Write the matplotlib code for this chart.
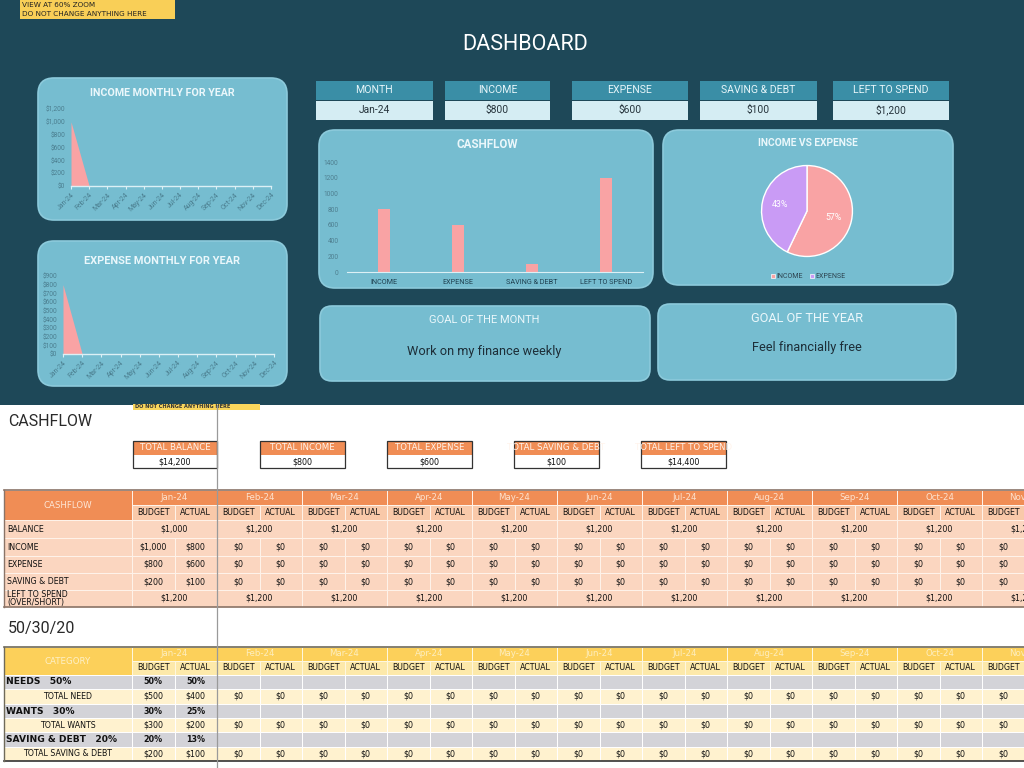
import matplotlib
matplotlib.use('Agg')
import matplotlib.pyplot as plt
from matplotlib.patches import FancyBboxPatch, Rectangle
import numpy as np

# ---------------- data ----------------
months = ['Jan-24', 'Feb-24', 'Mar-24', 'Apr-24', 'May-24', 'Jun-24',
          'Jul-24', 'Aug-24', 'Sep-24', 'Oct-24', 'Nov-24', 'Dec-24']
income_monthly = [1000, 0, 0, 0, 0, 0, 0, 0, 0, 0, 0, 0]
expense_monthly = [800, 0, 0, 0, 0, 0, 0, 0, 0, 0, 0, 0]

kpi_labels = ['MONTH', 'INCOME', 'EXPENSE', 'SAVING & DEBT', 'LEFT TO SPEND']
kpi_values = ['Jan-24', '$800', '$600', '$100', '$1,200']

cash_categories = ['INCOME', 'EXPENSE', 'SAVING & DEBT', 'LEFT TO SPEND']
cash_values = [800, 600, 100, 1200]

pie_labels = ['INCOME', 'EXPENSE']
pie_values = [800, 600]

goal_month = 'Work on my finance weekly'
goal_year = 'Feel financially free'

total_labels = ['TOTAL BALANCE', 'TOTAL INCOME', 'TOTAL EXPENSE',
                'TOTAL SAVING & DEBT', 'TOTAL LEFT TO SPEND']
total_values = [14200, 800, 600, 100, 14400]

table_months = months[:11]
balance = [1000, 1200, 1200, 1200, 1200, 1200, 1200, 1200, 1200, 1200, 1200]
income_budget = [1000, 0, 0, 0, 0, 0, 0, 0, 0, 0, 0]
income_actual = [800, 0, 0, 0, 0, 0, 0, 0, 0, 0, 0]
expense_budget = [800, 0, 0, 0, 0, 0, 0, 0, 0, 0, 0]
expense_actual = [600, 0, 0, 0, 0, 0, 0, 0, 0, 0, 0]
saving_budget = [200, 0, 0, 0, 0, 0, 0, 0, 0, 0, 0]
saving_actual = [100, 0, 0, 0, 0, 0, 0, 0, 0, 0, 0]
left_to_spend = [1200, 1200, 1200, 1200, 1200, 1200, 1200, 1200, 1200, 1200, 1200]

cat_names = ['NEEDS', 'WANTS', 'SAVING & DEBT']
cat_pct = ['50%', '30%', '20%']
cat_total_names = ['TOTAL NEED', 'TOTAL WANTS', 'TOTAL SAVING & DEBT']
cat_pct_budget = ['50%', '30%', '20%']
cat_pct_actual = ['50%', '25%', '13%']
need_budget = [500, 0, 0, 0, 0, 0, 0, 0, 0, 0, 0]
need_actual = [400, 0, 0, 0, 0, 0, 0, 0, 0, 0, 0]
wants_budget = [300, 0, 0, 0, 0, 0, 0, 0, 0, 0, 0]
wants_actual = [200, 0, 0, 0, 0, 0, 0, 0, 0, 0, 0]
sd_budget = [200, 0, 0, 0, 0, 0, 0, 0, 0, 0, 0]
sd_actual = [100, 0, 0, 0, 0, 0, 0, 0, 0, 0, 0]

# ---------------- styles ----------------
DARK = '#1e4858'
PANEL = '#76bdd0'
PANEL_EDGE = '#8ccadb'
SALMON = '#f9a3a4'
PURPLE = '#c99bf5'
KPI_HEAD = '#3a8ea6'
KPI_VAL = '#d5edf3'
DFONT = 'Roboto'
TFONT = 'DejaVu Sans'
ORANGE = '#f08d55'
ORANGE_SUB = '#f9c9a9'
PEACH = '#fbd6c0'
YELLOW = '#fcd05a'
YELLOW_SUB = '#fde9aa'
CREAM = '#fff2cf'
GRAY = '#d3d3d8'

W, H = 1024, 768
fig = plt.figure(figsize=(10.24, 7.68), dpi=100)
fig.patch.set_facecolor('white')
bg = fig.add_axes([0, 0, 1, 1])
bg.set_xlim(0, W)
bg.set_ylim(H, 0)
bg.axis('off')


def fax(x0, y0, x1, y1):
    a = fig.add_axes([x0 / W, 1 - y1 / H, (x1 - x0) / W, (y1 - y0) / H])
    a.set_facecolor('none')
    return a


def rect(x0, y0, x1, y1, fc, ec='none', lw=0, z=1):
    r = Rectangle((x0, y0), x1 - x0, y1 - y0, facecolor=fc, edgecolor=ec,
                  linewidth=lw, zorder=z)
    bg.add_patch(r)
    return r


def rrect(x0, y0, x1, y1, fc, ec, r=16):
    p = FancyBboxPatch((x0, y0), x1 - x0, y1 - y0,
                       boxstyle=f"round,pad=0,rounding_size={r}",
                       facecolor=fc, edgecolor=ec, linewidth=1.2, zorder=1)
    bg.add_patch(p)


def txt(x, y, s, size, color='black', ha='center', va='center',
        weight='normal', family=DFONT, clip=None, z=5):
    t = bg.text(x, y, s, fontsize=size, color=color, ha=ha, va=va,
                fontweight=weight, family=family, zorder=z)
    if clip is not None:
        t.set_clip_path(clip)
    return t


def money(v):
    return f'${v:,.0f}'


# ---------------- dashboard ----------------
rect(0, 0, W, 405, DARK)
rect(20, 0, 175, 19, '#f9cf57', z=2)
txt(22, 5, 'VIEW AT 60% ZOOM', 5.2, '#222', ha='left', family=TFONT)
txt(22, 14.5, 'DO NOT CHANGE ANYTHING HERE', 5.2, '#222', ha='left', family=TFONT)
txt(525, 44, 'DASHBOARD', 15.5, 'white')

# panels
rrect(38, 78, 287, 220, PANEL, PANEL_EDGE)
rrect(38, 241, 287, 386, PANEL, PANEL_EDGE)
rrect(319, 130, 653, 288, PANEL, PANEL_EDGE)
rrect(663, 130, 953, 285, PANEL, PANEL_EDGE)
rrect(320, 306, 650, 381, PANEL, PANEL_EDGE, r=12)
rrect(658, 304, 956, 380, PANEL, PANEL_EDGE, r=12)

TITLE_C = '#eaf7fb'
txt(162, 93, 'INCOME MONTHLY FOR YEAR', 7.7, TITLE_C, weight='bold')
txt(162, 261, 'EXPENSE MONTHLY FOR YEAR', 7.9, TITLE_C, weight='bold')
txt(487, 144, 'CASHFLOW', 8.4, TITLE_C, weight='bold')
txt(808, 143, 'INCOME VS EXPENSE', 7.4, TITLE_C, weight='bold')
txt(484, 320, 'GOAL OF THE MONTH', 8, TITLE_C)
txt(484, 352, goal_month, 9.2, '#1d2e38')
txt(807, 319, 'GOAL OF THE YEAR', 9.2, TITLE_C)
txt(807, 348, goal_year, 9.2, '#1d2e38')

TICK_C = '#4b7e8f'
AXIS_C = '#dcf0f5'


def area_chart(box, vals, ymax, step):
    ax = fax(*box)
    x = np.arange(len(months))
    ax.fill_between(x, vals, color=SALMON, lw=0)
    ax.set_xlim(0, len(months) - 1)
    ax.set_ylim(0, ymax)
    yt = np.arange(0, ymax + 1, step)
    ax.set_yticks(yt)
    ax.set_yticklabels([money(v) for v in yt])
    ax.set_xticks(x)
    ax.set_xticklabels(months, rotation=45, ha='right', rotation_mode='anchor')
    for s in ['top', 'right', 'left']:
        ax.spines[s].set_visible(False)
    ax.spines['bottom'].set_color(AXIS_C)
    ax.spines['bottom'].set_linewidth(1)
    ax.tick_params(axis='y', length=0, labelsize=4.7, labelcolor=TICK_C, pad=4)
    ax.tick_params(axis='x', length=2, color=AXIS_C, labelsize=5.0,
                   labelcolor=TICK_C, pad=2)
    for lab in ax.get_xticklabels() + ax.get_yticklabels():
        lab.set_family(DFONT)
    return ax


area_chart((71, 109, 271, 186), income_monthly, 1200, 200)
area_chart((63, 276, 274, 354), expense_monthly, 900, 100)

# KPI boxes
kpi_x = [(316, 433), (445, 550), (572, 688), (700, 817), (833, 949)]
for (x0, x1), lab, val in zip(kpi_x, kpi_labels, kpi_values):
    rect(x0, 81, x1, 99.5, KPI_HEAD, z=2)
    rect(x0, 100.5, x1, 120, KPI_VAL, z=2)
    txt((x0 + x1) / 2, 90, lab, 7.6, '#e6f5f9')
    txt((x0 + x1) / 2, 110, val, 7.4, '#27353d')

# cashflow bar chart
axb = fax(347, 162, 643, 272)
xb = np.arange(len(cash_categories))
axb.bar(xb, cash_values, width=0.17, color=SALMON)
axb.set_xlim(-0.5, len(cash_categories) - 0.5)
axb.set_ylim(0, 1400)
axb.set_yticks(np.arange(0, 1401, 200))
axb.set_xticks(xb)
axb.set_xticklabels(cash_categories)
for s in ['top', 'right', 'left']:
    axb.spines[s].set_visible(False)
axb.spines['bottom'].set_color(AXIS_C)
axb.tick_params(axis='y', length=0, labelsize=4.7, labelcolor='#4f7f90', pad=6)
axb.tick_params(axis='x', length=0, labelsize=5.2, labelcolor='#1f4050', pad=5)
for lab in axb.get_xticklabels() + axb.get_yticklabels():
    lab.set_family(DFONT)

# pie
axp = fax(757, 161, 857, 261)
wedges, texts, autotexts = axp.pie(
    pie_values, colors=[SALMON, PURPLE], startangle=90, counterclock=False,
    radius=1, autopct='%1.0f%%', pctdistance=0.6,
    wedgeprops=dict(edgecolor='white', linewidth=1.0),
    textprops=dict(color='white', fontsize=6.3, family=DFONT))
axp.set_xlim(-1.1, 1.1)
axp.set_ylim(-1.1, 1.1)
axp.set_aspect('equal')
handles = [Rectangle((0, 0), 1, 1, facecolor=c, edgecolor='white', lw=0.5)
           for c in [SALMON, PURPLE]]
fig.legend(handles, pie_labels, loc='center', ncol=2, frameon=False,
           bbox_to_anchor=(808 / W, 1 - 277 / H),
           handlelength=0.6, handleheight=0.6, handletextpad=0.2,
           columnspacing=1.0, labelcolor='#2d4350', prop={'family': DFONT, 'size': 5})

# ---------------- lower sheet ----------------
rect(133, 404, 260, 410, '#f9d65c', z=2)
txt(135, 406.5, 'DO NOT CHANGE ANYTHING HERE', 3.6, '#333', ha='left',
    family=TFONT, weight='bold')
txt(8, 422, 'CASHFLOW', 11.5, '#2a2a2a', ha='left')
txt(8, 628, '50/30/20', 11.5, '#2a2a2a', ha='left')

# totals boxes
tot_x = [(133, 217), (260, 345), (387, 472), (514, 599), (641, 726)]
for (x0, x1), lab, val in zip(tot_x, total_labels, total_values):
    hr = rect(x0, 441, x1, 455, ORANGE, z=2)
    rect(x0, 455, x1, 468, 'white', z=2)
    rect(x0, 441, x1, 468, 'none', ec='#333333', lw=0.9, z=3)
    txt((x0 + x1) / 2, 448, lab, 6.2, '#fff4ec', family=TFONT, clip=hr)
    txt((x0 + x1) / 2, 462, money(val), 5.8, '#111111', family=TFONT)

# cashflow table
LX0, LX1 = 4, 132
MW = 85
cf_y = [490, 505, 520, 538, 556, 573, 590, 607]
CELL_EC = '#fff3ea'
TABLE_CLIP = Rectangle((0, 0), W, H, transform=bg.transData)


def cell(x0, y0, x1, y1, fc, ec=CELL_EC):
    rect(x0, y0, x1, y1, fc, ec=ec, lw=0.7, z=2)


cell(LX0, cf_y[0], LX1, cf_y[2], ORANGE)
txt((LX0 + LX1) / 2, (cf_y[0] + cf_y[2]) / 2, 'CASHFLOW', 6.2, '#fde6d6', family=TFONT)
row_names = ['BALANCE', 'INCOME', 'EXPENSE', 'SAVING & DEBT']
for i, nm in enumerate(row_names):
    cell(LX0, cf_y[2 + i], LX1, cf_y[3 + i], PEACH)
    txt(LX0 + 3, (cf_y[2 + i] + cf_y[3 + i]) / 2, nm, 5.7, '#111', ha='left', family=TFONT)
cell(LX0, cf_y[6], LX1, cf_y[7], PEACH)
txt(LX0 + 3, cf_y[6] + 4.5, 'LEFT TO SPEND', 5.7, '#111', ha='left', family=TFONT)
txt(LX0 + 3, cf_y[6] + 12.5, '(OVER/SHORT)', 5.7, '#111', ha='left', family=TFONT)

pairs = [(income_budget, income_actual), (expense_budget, expense_actual),
         (saving_budget, saving_actual)]
for m, mname in enumerate(table_months):
    x0 = LX1 + m * MW
    xm = x0 + MW / 2
    x1 = x0 + MW
    cell(x0, cf_y[0], x1, cf_y[1], ORANGE)
    txt(xm, (cf_y[0] + cf_y[1]) / 2, mname, 6.2, '#fde3d0', family=TFONT)
    cell(x0, cf_y[1], xm, cf_y[2], ORANGE_SUB)
    cell(xm, cf_y[1], x1, cf_y[2], ORANGE_SUB)
    txt((x0 + xm) / 2, (cf_y[1] + cf_y[2]) / 2, 'BUDGET', 5.7, '#111', family=TFONT)
    txt((xm + x1) / 2, (cf_y[1] + cf_y[2]) / 2, 'ACTUAL', 5.7, '#111', family=TFONT)
    cell(x0, cf_y[2], x1, cf_y[3], PEACH)
    txt(xm, (cf_y[2] + cf_y[3]) / 2, money(balance[m]), 5.7, '#111', family=TFONT)
    for r, (bv, av) in enumerate(pairs):
        ya, yb = cf_y[3 + r], cf_y[4 + r]
        cell(x0, ya, xm, yb, PEACH)
        cell(xm, ya, x1, yb, PEACH)
        txt((x0 + xm) / 2, (ya + yb) / 2, money(bv[m]), 5.7, '#111', family=TFONT)
        txt((xm + x1) / 2, (ya + yb) / 2, money(av[m]), 5.7, '#111', family=TFONT)
    cell(x0, cf_y[6], x1, cf_y[7], PEACH)
    txt(xm, (cf_y[6] + cf_y[7]) / 2, money(left_to_spend[m]), 5.7, '#111', family=TFONT)
bg.plot([LX0, W], [cf_y[0], cf_y[0]], color='#8a7468', lw=1.2, zorder=4)
bg.plot([LX0, W], [cf_y[7], cf_y[7]], color='#8a7468', lw=1.2, zorder=4)
bg.plot([LX0, LX0], [cf_y[0], cf_y[7]], color='#8a7468', lw=1.0, zorder=4)

# 50/30/20 table
bt_y = [647, 661, 675, 689, 704, 718, 732, 747, 761]
cell(LX0, bt_y[0], LX1, bt_y[2], YELLOW, ec='#fff8e0')
txt((LX0 + LX1) / 2, (bt_y[0] + bt_y[2]) / 2, 'CATEGORY', 6.2, '#fdf0c8', family=TFONT)
for k in range(3):
    ya, yb, yc = bt_y[2 + 2 * k], bt_y[3 + 2 * k], bt_y[4 + 2 * k]
    cell(LX0, ya, LX1, yb, GRAY, ec='white')
    txt(LX0 + 2, (ya + yb) / 2, f'{cat_names[k]}   {cat_pct[k]}', 6.6, '#111',
        ha='left', weight='bold', family=TFONT)
    cell(LX0, yb, LX1, yc, CREAM, ec='white')
    txt((LX0 + LX1) / 2, (yb + yc) / 2, cat_total_names[k], 5.7, '#111', family=TFONT)

bpairs = [(need_budget, need_actual), (wants_budget, wants_actual), (sd_budget, sd_actual)]
for m, mname in enumerate(table_months):
    x0 = LX1 + m * MW
    xm = x0 + MW / 2
    x1 = x0 + MW
    cell(x0, bt_y[0], x1, bt_y[1], YELLOW, ec='#fff8e0')
    txt(xm, (bt_y[0] + bt_y[1]) / 2, mname, 6.2, '#fdeebf', family=TFONT)
    cell(x0, bt_y[1], xm, bt_y[2], YELLOW_SUB, ec='#fff8e0')
    cell(xm, bt_y[1], x1, bt_y[2], YELLOW_SUB, ec='#fff8e0')
    txt((x0 + xm) / 2, (bt_y[1] + bt_y[2]) / 2, 'BUDGET', 5.7, '#111', family=TFONT)
    txt((xm + x1) / 2, (bt_y[1] + bt_y[2]) / 2, 'ACTUAL', 5.7, '#111', family=TFONT)
    for k, (bv, av) in enumerate(bpairs):
        ya, yb, yc = bt_y[2 + 2 * k], bt_y[3 + 2 * k], bt_y[4 + 2 * k]
        cell(x0, ya, xm, yb, GRAY, ec='white')
        cell(xm, ya, x1, yb, GRAY, ec='white')
        if m == 0:
            txt((x0 + xm) / 2, (ya + yb) / 2, cat_pct_budget[k], 5.8, '#111',
                weight='bold', family=TFONT)
            txt((xm + x1) / 2, (ya + yb) / 2, cat_pct_actual[k], 5.8, '#111',
                weight='bold', family=TFONT)
        cell(x0, yb, xm, yc, CREAM, ec='white')
        cell(xm, yb, x1, yc, CREAM, ec='white')
        txt((x0 + xm) / 2, (yb + yc) / 2, money(bv[m]), 5.7, '#111', family=TFONT)
        txt((xm + x1) / 2, (yb + yc) / 2, money(av[m]), 5.7, '#111', family=TFONT)
bg.plot([LX0, W], [bt_y[0], bt_y[0]], color='#6f6a5a', lw=1.2, zorder=4)
bg.plot([LX0, W], [bt_y[8], bt_y[8]], color='#333333', lw=1.2, zorder=4)
bg.plot([LX0, LX0], [bt_y[0], bt_y[8]], color='#6f6a5a', lw=1.0, zorder=4)

# frozen pane line
bg.plot([217, 217], [405, H], color='#9a9a9a', lw=0.9, zorder=6)

fig.savefig('out.png', dpi=100, facecolor='white')
